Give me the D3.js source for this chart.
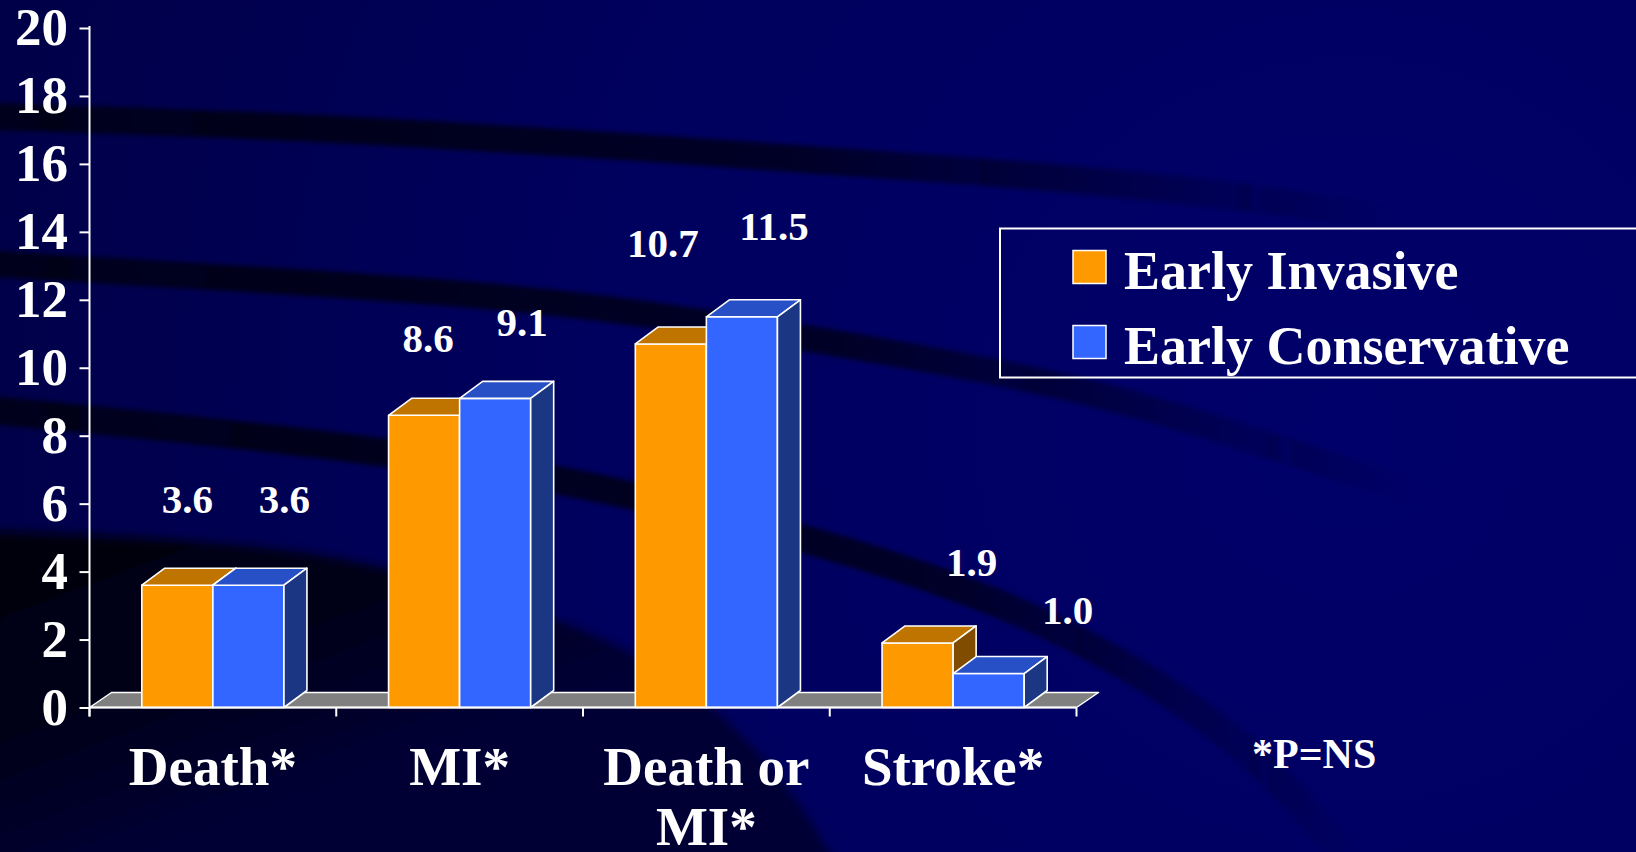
<!DOCTYPE html>
<html>
<head>
<meta charset="utf-8">
<script src="https://cdn.jsdelivr.net/npm/d3@7"></script>
<style>
  html, body { margin: 0; padding: 0; background: #00005a; overflow: hidden; }
  svg { display: block; }
  text { font-family: "Liberation Serif", "Times New Roman", serif; font-weight: bold; fill: #ffffff; }
</style>
</head>
<body>
<svg id="chart" width="1636" height="852"></svg>
<script>
// Event rates (%) by outcome and strategy
const categories = ["Death*", "MI*", "Death or MI*", "Stroke*"];
const categoryLines = [["Death*"], ["MI*"], ["Death or", "MI*"], ["Stroke*"]];
const earlyInvasive = [3.6, 8.6, 10.7, 1.9];
const earlyConservative = [3.6, 9.1, 11.5, 1.0];
const seriesNames = ["Early Invasive", "Early Conservative"];
const yTicks = [0, 2, 4, 6, 8, 10, 12, 14, 16, 18, 20];
const footnote = "*P=NS";

// Hand-placed value label nudges (px from the bar's front-top centre)
const labelNudge = [
  [[10, -72], [36, -72]],
  [[4, -63], [27, -62]],
  [[-8, -87], [32, -77]],
  [[54, -67], [79, -50]]
];

const W = 1636, H = 852;
const svg = d3.select("#chart");
const defs = svg.append("defs");

// ---------- background ----------
const bg = defs.append("radialGradient").attr("id", "bgGrad")
  .attr("gradientUnits", "userSpaceOnUse")
  .attr("cx", 1350).attr("cy", 430).attr("r", 1400);
bg.append("stop").attr("offset", 0).attr("stop-color", "#00006a");
bg.append("stop").attr("offset", 0.55).attr("stop-color", "#00005e");
bg.append("stop").attr("offset", 1).attr("stop-color", "#000048");
svg.append("rect").attr("width", W).attr("height", H).attr("fill", "url(#bgGrad)");

defs.append("filter").attr("id", "soft").attr("x", "-10%").attr("y", "-50%").attr("width", "120%").attr("height", "200%")
  .append("feGaussianBlur").attr("stdDeviation", 2);
defs.append("filter").attr("id", "softer").attr("x", "-20%").attr("y", "-20%").attr("width", "140%").attr("height", "140%")
  .append("feGaussianBlur").attr("stdDeviation", 5);

function fadeGrad(id, x0, x1, x2, color) {
  const g = defs.append("linearGradient").attr("id", id)
    .attr("gradientUnits", "userSpaceOnUse")
    .attr("x1", x0).attr("y1", 0).attr("x2", x2).attr("y2", 0);
  g.append("stop").attr("offset", 0).attr("stop-color", color).attr("stop-opacity", 1);
  g.append("stop").attr("offset", (x1 - x0) / (x2 - x0)).attr("stop-color", color).attr("stop-opacity", 0.8);
  g.append("stop").attr("offset", 1).attr("stop-color", color).attr("stop-opacity", 0);
}

const curve = d3.line().curve(d3.curveBasis);

// wide dark sweep across the lower left
const dGrad = defs.append("linearGradient").attr("id", "sweep")
  .attr("gradientUnits", "userSpaceOnUse").attr("x1", 0).attr("y1", 540).attr("x2", 120).attr("y2", 860);
dGrad.append("stop").attr("offset", 0).attr("stop-color", "#00000e");
dGrad.append("stop").attr("offset", 0.5).attr("stop-color", "#000016");
dGrad.append("stop").attr("offset", 1).attr("stop-color", "#000034");
const sweepTop = [[-10, 531], [200, 540], [344, 556], [500, 598], [631, 648], [717, 707], [790, 785], [840, 870]];
svg.append("path")
  .attr("d", curve(sweepTop) + "L-10,870Z")
  .attr("fill", "url(#sweep)").attr("filter", "url(#softer)");

const bands = [
  { pts: [[-20, 116], [300, 126], [650, 148], [1000, 172], [1250, 196], [1450, 228]], w: 27, fade: [0, 800, 1400] },
  { pts: [[-20, 263], [300, 282], [560, 300], [810, 338], [1000, 372], [1150, 405], [1420, 495]], w: 26, fade: [0, 850, 1420] },
  { pts: [[-20, 409], [300, 440], [560, 476], [810, 538], [1000, 600], [1120, 660], [1250, 745], [1350, 860]], w: 28, fade: [0, 950, 1360] }
];
bands.forEach((b, i) => {
  fadeGrad("band" + i, b.fade[0], b.fade[1], b.fade[2], "#00001a");
  svg.append("path").attr("d", curve(b.pts)).attr("fill", "none")
    .attr("stroke", `url(#band${i})`).attr("stroke-width", b.w).attr("filter", "url(#soft)");
});

// ---------- scales ----------
const x = d3.scaleBand().domain(categories).range([89.5, 1076.5]).paddingInner(0).paddingOuter(0);
const y = d3.scaleLinear().domain([0, 20]).range([707.5, 28]);
const barW = x.bandwidth() * 0.288;
const depth = { dx: 23, dy: 17 };
const floorDepth = { dx: 22, dy: 15 };

const colors = [
  { front: "#ff9900", top: "#c07400", side: "#7f4c00" },
  { front: "#3366ff", top: "#2850c6", side: "#1b3784" }
];

const g = svg.append("g");

// floor slab
const fx0 = x.range()[0], fx1 = x.range()[1], fy = y(0);
g.append("path")
  .attr("d", `M${fx0},${fy}L${fx1},${fy}L${fx1 + floorDepth.dx},${fy - floorDepth.dy}L${fx0 + floorDepth.dx},${fy - floorDepth.dy}Z`)
  .attr("fill", "#808080").attr("stroke", "#ffffff").attr("stroke-width", 1.5).attr("stroke-linejoin", "round");

// bars
const seriesValues = [earlyInvasive, earlyConservative];
categories.forEach((c, ci) => {
  const cx = x(c) + x.bandwidth() / 2;
  seriesValues.forEach((vals, si) => {
    const v = vals[ci];
    const x0 = cx + (si - 1) * barW, x1 = x0 + barW;
    const yt = y(v), yb = y(0);
    const { dx, dy } = depth;
    const bar = g.append("g");
    bar.append("path") // front
      .attr("d", `M${x0},${yb}L${x0},${yt}L${x1},${yt}L${x1},${yb}Z`)
      .attr("fill", colors[si].front);
    bar.append("path") // top
      .attr("d", `M${x0},${yt}L${x0 + dx},${yt - dy}L${x1 + dx},${yt - dy}L${x1},${yt}Z`)
      .attr("fill", colors[si].top);
    bar.append("path") // side
      .attr("d", `M${x1},${yt}L${x1 + dx},${yt - dy}L${x1 + dx},${yb - dy}L${x1},${yb}Z`)
      .attr("fill", colors[si].side);
    bar.selectAll("path").attr("stroke", "#ffffff").attr("stroke-width", 1.6).attr("stroke-linejoin", "round");
  });
});

// ---------- axes ----------
const yAxis = g.append("g").attr("transform", `translate(${x.range()[0]},0)`)
  .call(d3.axisLeft(y).tickValues(yTicks).tickSize(10).tickPadding(11.5).tickSizeOuter(0));
yAxis.select(".domain").attr("stroke", "#ffffff").attr("stroke-width", 2)
  .attr("d", `M0,${y(20) - 2}V${y(0) + 9}`);
yAxis.selectAll(".tick line").attr("stroke", "#ffffff").attr("stroke-width", 2);
yAxis.selectAll(".tick text").attr("font-size", 53).attr("fill", "#ffffff")
  .style("font-family", '"Liberation Serif", serif').style("font-weight", "bold");

// baseline and category ticks
g.append("line").attr("x1", fx0).attr("x2", fx1).attr("y1", fy).attr("y2", fy)
  .attr("stroke", "#ffffff").attr("stroke-width", 2);
const boundaries = categories.map(c => x(c)).concat([x.range()[1]]);
g.selectAll(".xtick").data(boundaries).join("line").attr("class", "xtick")
  .attr("x1", d => d).attr("x2", d => d).attr("y1", fy).attr("y2", fy + 9)
  .attr("stroke", "#ffffff").attr("stroke-width", 2);

// category labels
categories.forEach((c, ci) => {
  const t = g.append("text").attr("text-anchor", "middle").attr("font-size", 55)
    .attr("x", x(c) + x.bandwidth() / 2).attr("y", 785);
  categoryLines[ci].forEach((line, li) => {
    t.append("tspan").attr("x", x(c) + x.bandwidth() / 2).attr("dy", li === 0 ? 0 : 60).text(line);
  });
});

// value labels
categories.forEach((c, ci) => {
  const cx = x(c) + x.bandwidth() / 2;
  seriesValues.forEach((vals, si) => {
    const v = vals[ci];
    const fcx = cx + (si - 0.5) * barW;
    const [ndx, ndy] = labelNudge[ci][si];
    g.append("text").attr("text-anchor", "middle").attr("font-size", 41)
      .attr("x", fcx + ndx).attr("y", y(v) + ndy).text(v.toFixed(1));
  });
});

// ---------- legend ----------
const legend = svg.append("g");
legend.append("rect").attr("x", 1000).attr("y", 228.5).attr("width", 700).attr("height", 149)
  .attr("fill", "none").attr("stroke", "#ffffff").attr("stroke-width", 2);
seriesNames.forEach((name, i) => {
  const ly = 250.5 + i * 75;
  legend.append("rect").attr("x", 1073).attr("y", ly).attr("width", 33).attr("height", 33)
    .attr("fill", colors[i].front).attr("stroke", "#ffffff").attr("stroke-width", 1.5);
  legend.append("text").attr("x", 1124).attr("y", ly + 38.5).attr("font-size", 54).text(name);
});

// footnote
svg.append("text").attr("x", 1252).attr("y", 768).attr("font-size", 42).text(footnote);
</script>
</body>
</html>
